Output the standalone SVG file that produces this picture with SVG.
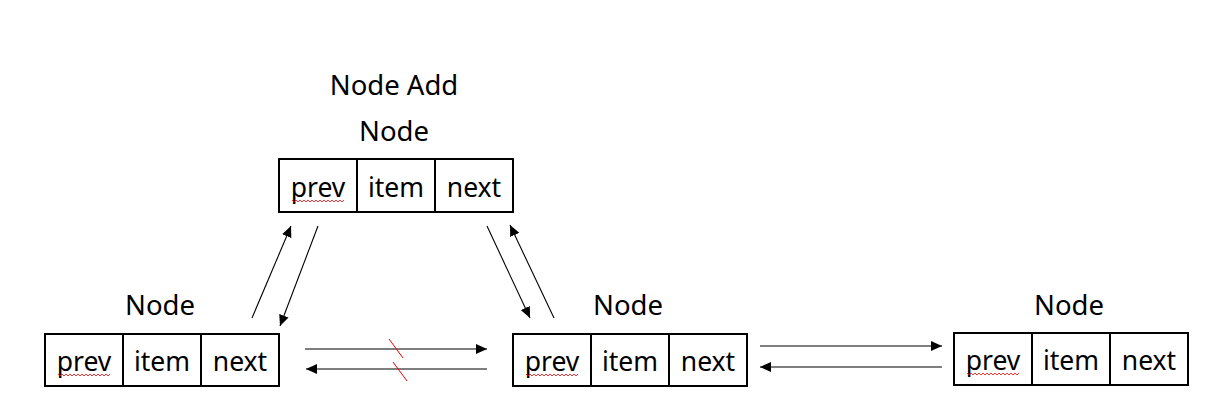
<svg xmlns="http://www.w3.org/2000/svg" width="1219" height="413" viewBox="0 0 1219 413">
<style>
.box{fill:#fff;stroke:#000;stroke-width:2}
.div{stroke:#000;stroke-width:2}
.t{font-family:"Noto Sans","Noto Sans CJK KR",sans-serif;font-size:26.5px;fill:#000;text-anchor:middle}
.h{font-size:27.5px}
.c{stroke:#000;stroke-width:1.1;fill:none;marker-end:url(#ah)}
.sq{stroke:#e00;stroke-width:0.8;fill:none}
.red{stroke:#e00;stroke-width:1;fill:none}
</style>
<defs>
<marker id="ah" markerUnits="userSpaceOnUse" markerWidth="12" markerHeight="10" refX="11" refY="5" orient="auto">
<path d="M0,0 L11,5 L0,10 Z" fill="#000"/>
</marker>
</defs>
<rect width="1219" height="413" fill="#fff"/>
<text class="t h" x="394" y="95">Node Add</text>
<g id="node-new">
<text class="t h" x="394" y="141">Node</text>
<rect class="box" x="279" y="159" width="234" height="53"/>
<line class="div" x1="357" y1="159" x2="357" y2="212"/>
<line class="div" x1="435" y1="159" x2="435" y2="212"/>
<text class="t" x="318" y="197">prev</text>
<text class="t" x="396" y="197">item</text>
<text class="t" x="474" y="197">next</text>
<path class="sq" d="M292,200 l2,2 l2,-2 l2,2 l2,-2 l2,2 l2,-2 l2,2 l2,-2 l2,2 l2,-2 l2,2 l2,-2 l2,2 l2,-2 l2,2 l2,-2 l2,2 l2,-2 l2,2 l2,-2 l2,2 l2,-2 l2,2 l2,-2 l2,2 l2,-2"/>
</g>
<g id="node-1">
<text class="t h" x="160" y="315">Node</text>
<rect class="box" x="45" y="334" width="234" height="52"/>
<line class="div" x1="123" y1="334" x2="123" y2="386"/>
<line class="div" x1="201" y1="334" x2="201" y2="386"/>
<text class="t" x="84" y="371">prev</text>
<text class="t" x="162" y="371">item</text>
<text class="t" x="240" y="371">next</text>
<path class="sq" d="M58,374 l2,2 l2,-2 l2,2 l2,-2 l2,2 l2,-2 l2,2 l2,-2 l2,2 l2,-2 l2,2 l2,-2 l2,2 l2,-2 l2,2 l2,-2 l2,2 l2,-2 l2,2 l2,-2 l2,2 l2,-2 l2,2 l2,-2 l2,2 l2,-2"/>
</g>
<g id="node-2">
<text class="t h" x="628" y="315">Node</text>
<rect class="box" x="513" y="334" width="234" height="52"/>
<line class="div" x1="591" y1="334" x2="591" y2="386"/>
<line class="div" x1="669" y1="334" x2="669" y2="386"/>
<text class="t" x="552" y="371">prev</text>
<text class="t" x="630" y="371">item</text>
<text class="t" x="708" y="371">next</text>
<path class="sq" d="M526,374 l2,2 l2,-2 l2,2 l2,-2 l2,2 l2,-2 l2,2 l2,-2 l2,2 l2,-2 l2,2 l2,-2 l2,2 l2,-2 l2,2 l2,-2 l2,2 l2,-2 l2,2 l2,-2 l2,2 l2,-2 l2,2 l2,-2 l2,2 l2,-2"/>
</g>
<g id="node-3">
<text class="t h" x="1069" y="315">Node</text>
<rect class="box" x="954" y="333" width="234" height="52"/>
<line class="div" x1="1032" y1="333" x2="1032" y2="385"/>
<line class="div" x1="1110" y1="333" x2="1110" y2="385"/>
<text class="t" x="993" y="370">prev</text>
<text class="t" x="1071" y="370">item</text>
<text class="t" x="1149" y="370">next</text>
<path class="sq" d="M967,373 l2,2 l2,-2 l2,2 l2,-2 l2,2 l2,-2 l2,2 l2,-2 l2,2 l2,-2 l2,2 l2,-2 l2,2 l2,-2 l2,2 l2,-2 l2,2 l2,-2 l2,2 l2,-2 l2,2 l2,-2 l2,2 l2,-2 l2,2 l2,-2"/>
</g>
<g id="connectors">
<line class="c" x1="252" y1="318" x2="291" y2="226"/>
<line class="c" x1="318" y1="226" x2="280" y2="326"/>
<line class="c" x1="487" y1="226" x2="530" y2="318"/>
<line class="c" x1="554" y1="318" x2="510" y2="225"/>
<line class="c" x1="305" y1="349" x2="487" y2="349"/>
<line class="c" x1="487" y1="369" x2="306" y2="369"/>
<line class="c" x1="760" y1="346" x2="942" y2="346"/>
<line class="c" x1="942" y1="367" x2="760" y2="367"/>
<line class="red" x1="389" y1="339" x2="403" y2="358"/>
<line class="red" x1="393" y1="362" x2="407" y2="381"/>
</g>
</svg>
